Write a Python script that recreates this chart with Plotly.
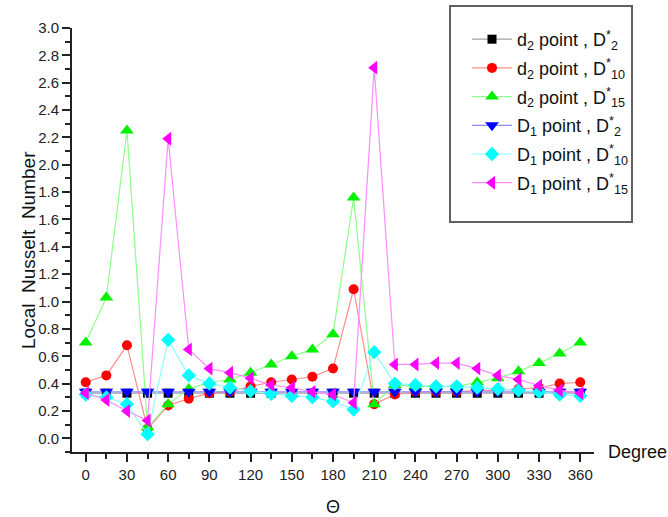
import plotly.graph_objects as go

# Angular positions around the tube (degrees)
degrees = list(range(0, 361, 15))

# Local Nusselt number for each measuring point / spacing ratio
nu_d2_D2 = [0.33, 0.33, 0.33, 0.33, 0.33, 0.33, 0.33, 0.33, 0.33, 0.33, 0.33, 0.33, 0.33,
            0.33, 0.33, 0.33, 0.33, 0.33, 0.33, 0.33, 0.33, 0.33, 0.33, 0.33, 0.33]
nu_d2_D10 = [0.41, 0.46, 0.68, 0.07, 0.24, 0.29, 0.33, 0.34, 0.38, 0.41, 0.43, 0.45, 0.51,
             1.09, 0.25, 0.32, 0.34, 0.34, 0.34, 0.35, 0.35, 0.36, 0.37, 0.40, 0.41]
nu_d2_D15 = [0.70, 1.03, 2.25, 0.08, 0.25, 0.36, 0.41, 0.43, 0.48, 0.54, 0.60, 0.65, 0.76,
             1.76, 0.25, 0.39, 0.38, 0.38, 0.38, 0.41, 0.44, 0.49, 0.55, 0.62, 0.70]
nu_D1_D2 = [0.34, 0.34, 0.34, 0.34, 0.34, 0.34, 0.34, 0.34, 0.34, 0.34, 0.34, 0.34, 0.34,
            0.34, 0.34, 0.34, 0.34, 0.34, 0.34, 0.34, 0.34, 0.34, 0.34, 0.34, 0.34]
nu_D1_D10 = [0.32, 0.30, 0.25, 0.03, 0.72, 0.46, 0.40, 0.37, 0.345, 0.325, 0.31, 0.30, 0.27,
             0.21, 0.63, 0.40, 0.39, 0.38, 0.38, 0.37, 0.36, 0.35, 0.34, 0.32, 0.31]
nu_D1_D15 = [0.33, 0.28, 0.20, 0.13, 2.19, 0.65, 0.51, 0.48, 0.44, 0.39, 0.37, 0.34, 0.32,
             0.26, 2.71, 0.54, 0.54, 0.55, 0.55, 0.51, 0.46, 0.43, 0.385, 0.35, 0.33]

series_names = [
    "d<sub>2</sub> point , D<sup>*</sup><sub>2</sub>",
    "d<sub>2</sub> point , D<sup>*</sup><sub>10</sub>",
    "d<sub>2</sub> point , D<sup>*</sup><sub>15</sub>",
    "D<sub>1</sub> point , D<sup>*</sup><sub>2</sub>",
    "D<sub>1</sub> point , D<sup>*</sup><sub>10</sub>",
    "D<sub>1</sub> point , D<sup>*</sup><sub>15</sub>",
]
series_values = [nu_d2_D2, nu_d2_D10, nu_d2_D15, nu_D1_D2, nu_D1_D10, nu_D1_D15]

x_tick_values = list(range(0, 361, 30))
y_tick_values = [round(0.2 * i, 1) for i in range(16)]

marker_colors = ["#000000", "#ff0000", "#00f000", "#0000ff", "#00ffff", "#ff00ff"]
line_colors = ["#a0a0a0", "#ff8c8c", "#8cff8c", "#8c8cff", "#8cffff", "#ff8cff"]
symbols = ["square", "circle", "triangle-up", "triangle-down", "diamond", "triangle-left"]
sizes = [9, 10, 12, 12, 11, 12]

FONT = "Arial, Liberation Sans, sans-serif"

# canvas / plot-area geometry in pixels
W, H = 668, 517
ML, MR, MT, MB = 72, 74, 28, 65
PW, PH = W - ML - MR, H - MT - MB


def px_x(p):
    return (p - ML) / PW


def px_y(p):
    return (H - MB - p) / PH


fig = go.Figure()
for i, (name, vals, mc, lc, sym, sz) in enumerate(
        zip(series_names, series_values, marker_colors, line_colors, symbols, sizes)):
    fig.add_trace(go.Scatter(
        x=degrees, y=vals, name=name, mode="lines+markers",
        legendgroup=f"g{i}",
        line=dict(color=lc, width=1.2),
        marker=dict(symbol=sym, size=sz, color=mc, line=dict(width=0)),
    ))

axis_common = dict(
    showline=True, linecolor="#222222", linewidth=2,
    ticks="outside", ticklen=8, tickwidth=1.5, tickcolor="#222222",
    showgrid=False, zeroline=False, mirror=False,
    tickfont=dict(family=FONT, size=15, color="#222222"),
)

fig.update_xaxes(
    range=[-10, 370], tickmode="array", tickvals=x_tick_values,
    minor=dict(dtick=15, tick0=0, ticks="outside", ticklen=5, tickwidth=1.5,
               tickcolor="#222222"),
    **axis_common,
)
fig.update_yaxes(
    range=[-0.1, 3.0], tickmode="array", tickvals=y_tick_values,
    tickformat=".1f",
    minor=dict(dtick=0.1, tick0=0, ticks="outside", ticklen=5, tickwidth=1.5,
               tickcolor="#222222"),
    **axis_common,
)

fig.update_layout(
    width=W, height=H,
    margin=dict(l=ML, r=MR, t=MT, b=MB),
    paper_bgcolor="white", plot_bgcolor="white",
    font=dict(family=FONT, color="#111111"),
    showlegend=True,
    legend=dict(
        x=px_x(467), y=px_y(21), xanchor="left", yanchor="top",
        borderwidth=0, bgcolor="rgba(0,0,0,0)",
        font=dict(family=FONT, size=18, color="#111111"),
        itemwidth=40, tracegroupgap=2.3,
    ),
    shapes=[
        # legend frame
        dict(type="rect", xref="paper", yref="paper",
             x0=px_x(450), x1=px_x(632), y0=px_y(222), y1=px_y(6),
             line=dict(color="#606060", width=2), fillcolor="white", layer="above"),
    ],
    annotations=[
        dict(text="Local  Nusselt  Number", textangle=-90,
             x=px_x(28), y=px_y(250), xanchor="center", yanchor="middle",
             xref="paper", yref="paper", showarrow=False,
             font=dict(family=FONT, size=19, color="#111111")),
        dict(text="Degree", x=1.0, y=0.0, xref="paper", yref="paper",
             xanchor="left", yanchor="middle", xshift=12, showarrow=False,
             font=dict(family=FONT, size=18, color="#111111")),
        dict(text="Θ", x=180, y=0, xref="x", yref="paper", yanchor="middle",
             yshift=-55, showarrow=False,
             font=dict(family=FONT, size=18, color="#111111")),
    ],
)

fig.write_html("out.html")
